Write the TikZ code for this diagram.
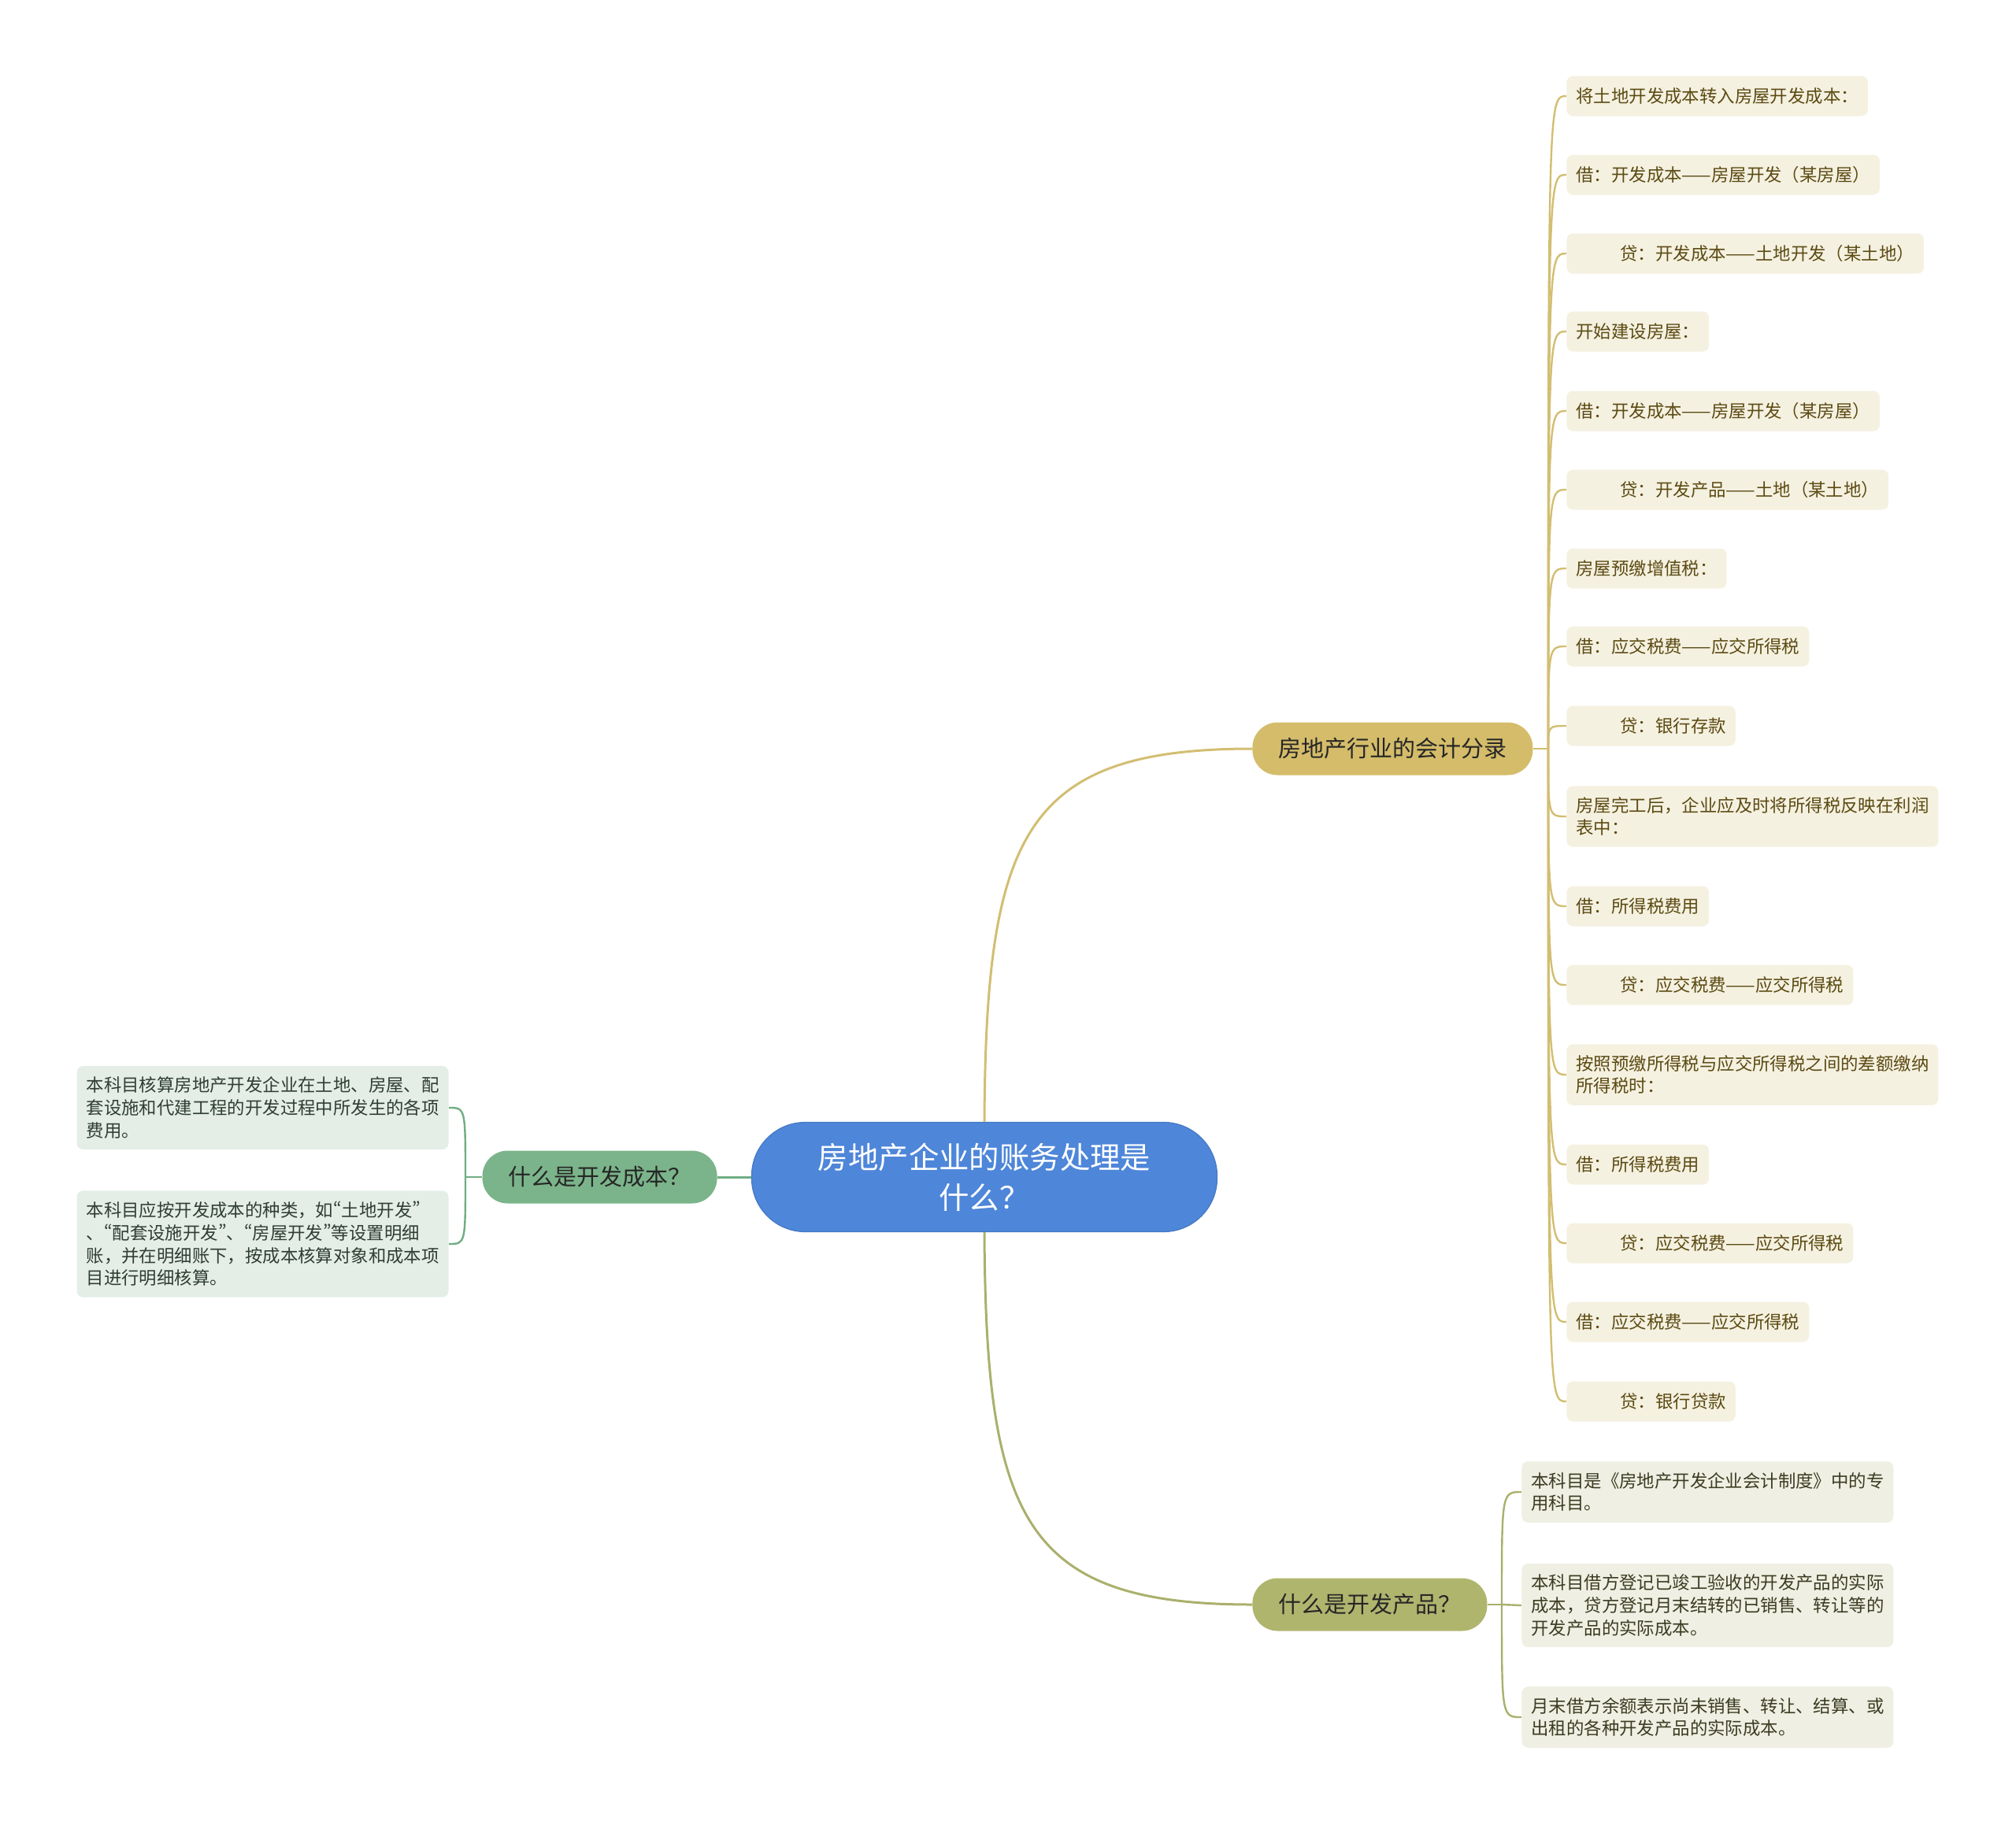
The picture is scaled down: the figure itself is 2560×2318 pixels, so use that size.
\documentclass[tikz,border=0pt]{standalone}
\usepackage{fontspec}
\setmainfont{Noto Sans CJK SC}
\newfontfamily\quotefont[RawFeature=+pwid]{Noto Sans CJK SC}
\newcommand{\oq}{{\quotefont “}}
\newcommand{\cq}{{\quotefont ”}}

\definecolor{rootblue}{HTML}{4E86D9}
\definecolor{goldbr}{HTML}{D4BC6A}
\definecolor{goldln}{HTML}{D2BE72}
\definecolor{goldleaf}{HTML}{F5F1E1}
\definecolor{goldtxt}{HTML}{5B4A12}
\definecolor{olivebr}{HTML}{B0B56E}
\definecolor{oliveln}{HTML}{AAB06C}
\definecolor{oliveleaf}{HTML}{EFEFE3}
\definecolor{olivetxt}{HTML}{3B3B22}
\definecolor{greenbr}{HTML}{7BB48A}
\definecolor{greenln}{HTML}{6FAE82}
\definecolor{greenleaf}{HTML}{E4EEE7}
\definecolor{greentxt}{HTML}{2F3D33}

\begin{document}
\begin{tikzpicture}[x=0.5pt, y=-0.5pt,
    root/.style={draw=rootblue!90!black, line width=0.6pt, fill=rootblue, text=white,
        rounded corners=34pt, minimum width=295.5pt, minimum height=69.5pt,
        align=center, font=\fontsize{19.2}{25.5}\selectfont},
    topic/.style={rounded corners=16pt, minimum height=33.5pt, inner xsep=16.5pt,
        text=black!85, font=\fontsize{14.5}{18}\selectfont},
    leaf/.style={rounded corners=4pt, minimum height=25.5pt, inner xsep=6pt, inner ysep=7pt,
        align=left, font=\fontsize{11.2}{14.3}\selectfont},
    gleaf/.style={leaf, fill=goldleaf, text=goldtxt, anchor=west},
    pleaf/.style={leaf, fill=oliveleaf, text=olivetxt, anchor=west},
    cleaf/.style={leaf, fill=greenleaf, text=greentxt, anchor=east},
    gline/.style={draw=goldln, line width=1.2pt},
    pline/.style={draw=oliveln, line width=1.2pt},
    cline/.style={draw=greenln, line width=1.2pt}
]

    \useasboundingbox (0,0) rectangle (2560,2318);

    \node[root] (R) at (1250,1495) {房地产企业的账务处理是\\什么？};

    \node[topic, fill=goldbr, anchor=west] (B1) at (1590,951) {房地产行业的会计分录};
    \node[topic, fill=olivebr, anchor=west] (B2) at (1590,2038) {什么是开发产品？};
    \node[topic, fill=greenbr, anchor=east] (B3) at (911,1495) {什么是开发成本？};

    \coordinate (J1) at (1966,951);
    \coordinate (J2) at (1907,2038);
    \coordinate (J3) at (591,1495);

    % accounting entries
    \node[gleaf] (L1) at (1989,122) {将土地开发成本转入房屋开发成本：};
    \node[gleaf] (L2) at (1989,222) {借：开发成本——房屋开发（某房屋）};
    \node[gleaf] (L3) at (1989,322) {\hspace*{2.5em}贷：开发成本——土地开发（某土地）};
    \node[gleaf] (L4) at (1989,421) {开始建设房屋：};
    \node[gleaf] (L5) at (1989,522) {借：开发成本——房屋开发（某房屋）};
    \node[gleaf] (L6) at (1989,622) {\hspace*{2.5em}贷：开发产品——土地（某土地）};
    \node[gleaf] (L7) at (1989,722) {房屋预缴增值税：};
    \node[gleaf] (L8) at (1989,821) {借：应交税费——应交所得税};
    \node[gleaf] (L9) at (1989,922) {\hspace*{2.5em}贷：银行存款};
    \node[gleaf] (L10) at (1989,1037) {房屋完工后，企业应及时将所得税反映在利润\\表中：};
    \node[gleaf] (L11) at (1989,1151) {借：所得税费用};
    \node[gleaf] (L12) at (1989,1251) {\hspace*{2.5em}贷：应交税费——应交所得税};
    \node[gleaf] (L13) at (1989,1365) {按照预缴所得税与应交所得税之间的差额缴纳\\所得税时：};
    \node[gleaf] (L14) at (1989,1479) {借：所得税费用};
    \node[gleaf] (L15) at (1989,1579) {\hspace*{2.5em}贷：应交税费——应交所得税};
    \node[gleaf] (L16) at (1989,1679) {借：应交税费——应交所得税};
    \node[gleaf] (L17) at (1989,1780) {\hspace*{2.5em}贷：银行贷款};

    % development products
    \node[pleaf] (P1) at (1932,1895) {本科目是《房地产开发企业会计制度》中的专\\用科目。};
    \node[pleaf] (P2) at (1932,2039) {本科目借方登记已竣工验收的开发产品的实际\\成本，贷方登记月末结转的已销售、转让等的\\开发产品的实际成本。};
    \node[pleaf] (P3) at (1932,2181) {月末借方余额表示尚未销售、转让、结算、或\\出租的各种开发产品的实际成本。};

    % development cost
    \node[cleaf] (C1) at (570,1407) {本科目核算房地产开发企业在土地、房屋、配\\套设施和代建工程的开发过程中所发生的各项\\费用。};
    \node[cleaf, minimum width=236pt] (C2) at (570,1580) {本科目应按开发成本的种类，如\oq 土地开发\cq\\、\oq 配套设施开发\cq 、\oq 房屋开发\cq 等设置明细\\账，并在明细账下，按成本核算对象和成本项\\目进行明细核算。};

    \draw[goldln, line width=1.5pt] (R.north) .. controls (1252,1060) and (1300,951) .. (B1.west);
    \draw[oliveln, line width=1.5pt] (R.south) .. controls (1252,1930) and (1300,2038) .. (B2.west);
    \draw[greenln, line width=1.5pt] (R.west) -- (B3.east);

    \draw[gline] (B1.east) -- (J1);
    \draw[gline] (J1) .. controls (J1 |- L1.west) .. (L1.west);
    \draw[gline] (J1) .. controls (J1 |- L2.west) .. (L2.west);
    \draw[gline] (J1) .. controls (J1 |- L3.west) .. (L3.west);
    \draw[gline] (J1) .. controls (J1 |- L4.west) .. (L4.west);
    \draw[gline] (J1) .. controls (J1 |- L5.west) .. (L5.west);
    \draw[gline] (J1) .. controls (J1 |- L6.west) .. (L6.west);
    \draw[gline] (J1) .. controls (J1 |- L7.west) .. (L7.west);
    \draw[gline] (J1) .. controls (J1 |- L8.west) .. (L8.west);
    \draw[gline] (J1) .. controls (J1 |- L9.west) .. (L9.west);
    \draw[gline] (J1) .. controls (J1 |- L10.west) .. (L10.west);
    \draw[gline] (J1) .. controls (J1 |- L11.west) .. (L11.west);
    \draw[gline] (J1) .. controls (J1 |- L12.west) .. (L12.west);
    \draw[gline] (J1) .. controls (J1 |- L13.west) .. (L13.west);
    \draw[gline] (J1) .. controls (J1 |- L14.west) .. (L14.west);
    \draw[gline] (J1) .. controls (J1 |- L15.west) .. (L15.west);
    \draw[gline] (J1) .. controls (J1 |- L16.west) .. (L16.west);
    \draw[gline] (J1) .. controls (J1 |- L17.west) .. (L17.west);

    \draw[pline] (B2.east) -- (J2);
    \draw[pline] (J2) .. controls (J2 |- P1.west) .. (P1.west);
    \draw[pline] (J2) -- (P2.west);
    \draw[pline] (J2) .. controls (J2 |- P3.west) .. (P3.west);

    \draw[cline] (B3.west) -- (J3);
    \draw[cline] (J3) .. controls (J3 |- C1.east) .. (C1.east);
    \draw[cline] (J3) .. controls (J3 |- C2.east) .. (C2.east);

\end{tikzpicture}
\end{document}
